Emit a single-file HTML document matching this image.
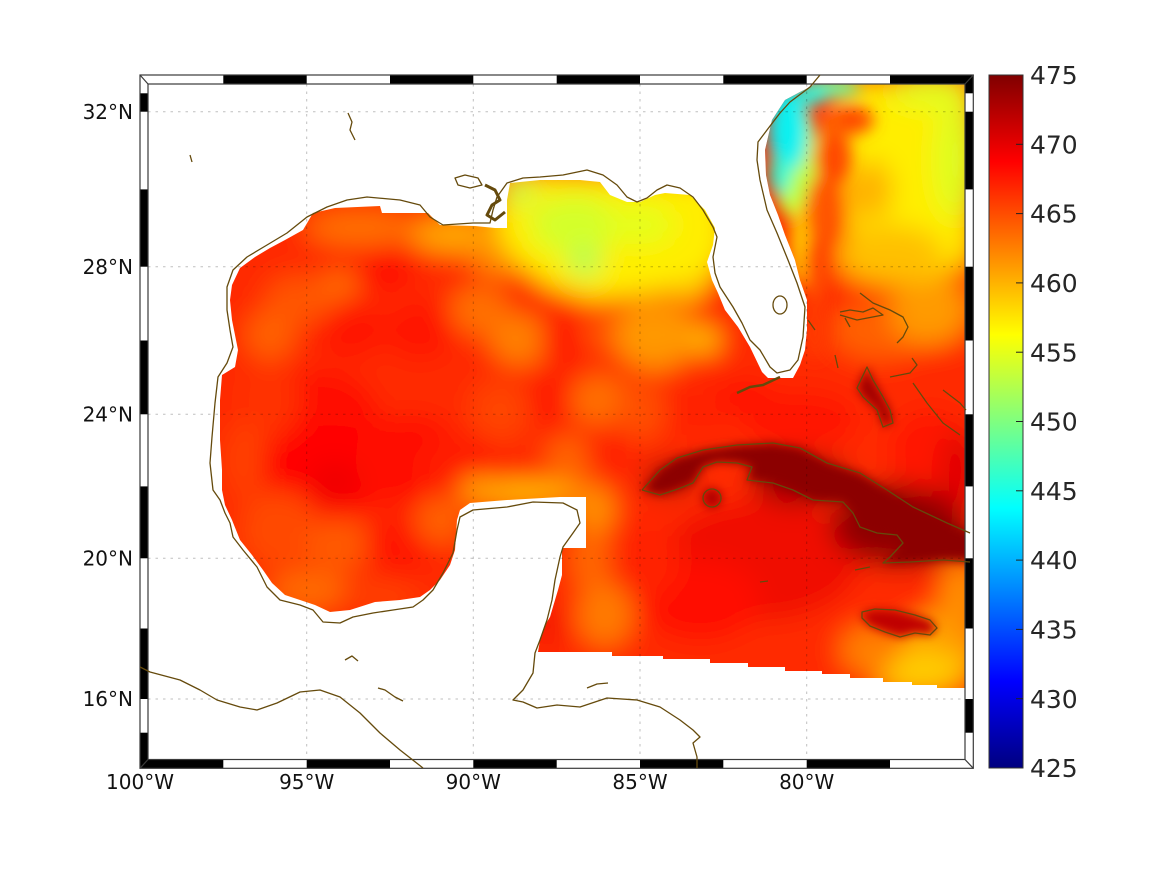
<!DOCTYPE html>
<html><head><meta charset="utf-8"><style>
html,body{margin:0;padding:0;background:#fff;}
svg{display:block;}
text{font-family:"DejaVu Sans","Liberation Sans",sans-serif;}
</style></head><body>
<svg width="1167" height="875" viewBox="0 0 1167 875" xmlns="http://www.w3.org/2000/svg">
<defs>
<linearGradient id="jet" x1="0" y1="1" x2="0" y2="0">
<stop offset="0" stop-color="#000080"/><stop offset="0.125" stop-color="#0000ff"/>
<stop offset="0.375" stop-color="#00ffff"/><stop offset="0.625" stop-color="#ffff00"/>
<stop offset="0.875" stop-color="#ff0000"/><stop offset="1" stop-color="#800000"/>
</linearGradient>
<filter id="bl" filterUnits="userSpaceOnUse" x="80" y="30" width="960" height="800"><feGaussianBlur stdDeviation="13"/></filter>
<filter id="bm" filterUnits="userSpaceOnUse" x="80" y="30" width="960" height="800"><feGaussianBlur stdDeviation="8"/></filter>
<filter id="bs" filterUnits="userSpaceOnUse" x="80" y="30" width="960" height="800"><feGaussianBlur stdDeviation="5"/></filter>
<clipPath id="inner"><rect x="148" y="84" width="817" height="675.5"/></clipPath>
<clipPath id="outer"><rect x="140" y="75" width="833.3" height="693.3"/></clipPath>
<clipPath id="data"><polygon points="965,84 965,688 937,688 937,685 912,685 912,682 883,682 883,678 850,678 850,674 822,674 822,671 785,671 785,667 748,667 748,663 710,663 710,659 663,659 663,656 612,656 612,652 538,652 540,640 545,625 550,617 555,600 558,590 562,575 562,548 586,548 586,497 560,497 507,500 470,503 460,510 457,520 455,550 450,565 440,580 430,590 420,597 400,600 375,602 350,610 330,612 315,605 300,600 285,595 272,583 263,570 252,555 240,540 232,520 225,505 222,490 222,470 220,440 220,400 222,375 235,367 238,350 232,320 230,300 232,285 240,268 255,257 270,248 285,240 303,230 313,213 335,208 380,206 382,213 428,213 440,225 475,226 495,228 507,228 507,200 510,183 540,180 580,180 600,182 610,195 627,202 640,202 655,195 665,193 690,195 705,210 715,228 713,245 707,262 712,280 718,293 725,310 738,327 750,347 762,372 768,378 793,378 800,365 805,350 807,330 807,300 800,280 795,260 785,235 778,215 770,195 766,175 765,150 772,120 785,100 800,92 808,88 815,84"/></clipPath>
</defs>

<!-- data field -->
<g clip-path="url(#inner)">
<g clip-path="url(#data)">
<g filter="url(#bl)">
<rect x="100" y="50" width="900" height="750" fill="#ff2a00"/>
<!-- top shelf -->
<ellipse cx="360" cy="228" rx="55" ry="18" fill="#ff7000"/>
<ellipse cx="460" cy="235" rx="50" ry="18" fill="#ffa800"/>
<ellipse cx="500" cy="250" rx="30" ry="25" fill="#ff9000"/>
<ellipse cx="385" cy="272" rx="30" ry="20" fill="#ff1000"/>
<ellipse cx="350" cy="330" rx="35" ry="30" fill="#ff1800"/>
<ellipse cx="420" cy="330" rx="35" ry="30" fill="#ff1800"/>
<ellipse cx="300" cy="300" rx="35" ry="25" fill="#ff5500"/>
<ellipse cx="270" cy="335" rx="25" ry="25" fill="#ff6000"/>
<ellipse cx="340" cy="285" rx="20" ry="15" fill="#ff6a00"/>
<ellipse cx="480" cy="310" rx="30" ry="25" fill="#ff7000"/>
<ellipse cx="520" cy="340" rx="30" ry="25" fill="#ff8000"/>
<ellipse cx="565" cy="340" rx="25" ry="22" fill="#ff1800"/>
<ellipse cx="610" cy="330" rx="30" ry="25" fill="#ff5000"/>
<ellipse cx="655" cy="335" rx="40" ry="35" fill="#ff9800"/>
<!-- NE gulf yellow -->
<polygon points="505,175 725,180 728,250 705,285 640,295 590,300 545,285 515,260 495,230" fill="#ffee00"/>
<ellipse cx="575" cy="225" rx="45" ry="30" fill="#d4ff2b"/>
<ellipse cx="585" cy="262" rx="15" ry="15" fill="#a8ff58"/>
<ellipse cx="520" cy="192" rx="14" ry="12" fill="#b8ff48"/>
<ellipse cx="640" cy="225" rx="35" ry="20" fill="#e4ff1c"/>
<ellipse cx="705" cy="340" rx="15" ry="13" fill="#ffc400"/>
<ellipse cx="690" cy="290" rx="14" ry="12" fill="#ffc800"/>
<!-- west core -->
<ellipse cx="320" cy="420" rx="60" ry="50" fill="#ff1000"/>
<ellipse cx="330" cy="470" rx="70" ry="45" fill="#ff0600"/>
<ellipse cx="335" cy="482" rx="25" ry="20" fill="#f00000"/>
<ellipse cx="410" cy="460" rx="55" ry="45" fill="#ff0800"/>
<ellipse cx="460" cy="470" rx="40" ry="35" fill="#ff1a00"/>
<ellipse cx="270" cy="400" rx="30" ry="40" fill="#ff3000"/>
<ellipse cx="245" cy="460" rx="20" ry="40" fill="#ff4000"/>
<ellipse cx="280" cy="530" rx="40" ry="40" fill="#ff4a00"/>
<ellipse cx="340" cy="545" rx="35" ry="25" fill="#ff5a00"/>
<ellipse cx="400" cy="545" rx="35" ry="30" fill="#ff1800"/>
<ellipse cx="440" cy="520" rx="25" ry="25" fill="#ff6000"/>
<ellipse cx="310" cy="590" rx="40" ry="20" fill="#ff6a00"/>
<ellipse cx="380" cy="595" rx="40" ry="15" fill="#ff4000"/>
<!-- central -->
<ellipse cx="500" cy="410" rx="30" ry="30" fill="#ff4500"/>
<ellipse cx="555" cy="400" rx="25" ry="25" fill="#ff1800"/>
<ellipse cx="600" cy="400" rx="30" ry="25" fill="#ff7000"/>
<ellipse cx="570" cy="460" rx="25" ry="25" fill="#ff6500"/>
<ellipse cx="610" cy="450" rx="25" ry="25" fill="#ff2000"/>
<ellipse cx="640" cy="410" rx="25" ry="30" fill="#ff5000"/>
<ellipse cx="700" cy="410" rx="35" ry="25" fill="#ff2000"/>
<ellipse cx="745" cy="395" rx="30" ry="15" fill="#ff1000"/>
<!-- yucatan shore -->
<ellipse cx="520" cy="492" rx="60" ry="10" fill="#ffc800"/>
<ellipse cx="480" cy="490" rx="20" ry="12" fill="#ffb000"/>
<ellipse cx="595" cy="510" rx="20" ry="25" fill="#ff9000"/>
<ellipse cx="590" cy="560" rx="20" ry="30" fill="#ff6800"/>
<ellipse cx="605" cy="615" rx="28" ry="32" fill="#ff7a00"/>
<ellipse cx="548" cy="625" rx="10" ry="22" fill="#f00000"/>
<!-- caribbean -->
<ellipse cx="760" cy="560" rx="100" ry="60" fill="#f00800"/>
<ellipse cx="700" cy="600" rx="60" ry="40" fill="#ff1000"/>
<ellipse cx="650" cy="560" rx="30" ry="40" fill="#ff2000"/>
<ellipse cx="940" cy="650" rx="40" ry="40" fill="#ffa000"/>
<ellipse cx="920" cy="672" rx="45" ry="22" fill="#ffcc00"/>
<ellipse cx="870" cy="650" rx="30" ry="25" fill="#ff8000"/>
<ellipse cx="960" cy="600" rx="20" ry="40" fill="#ff9000"/>
<ellipse cx="900" cy="525" rx="70" ry="42" fill="#900000"/>
<ellipse cx="800" cy="480" rx="50" ry="25" fill="#a00000"/>
<ellipse cx="670" cy="478" rx="25" ry="15" fill="#a00000"/>
<!-- atlantic -->
<ellipse cx="800" cy="420" rx="60" ry="30" fill="#ff1400"/>
<ellipse cx="930" cy="450" rx="40" ry="40" fill="#ff1800"/>
<ellipse cx="960" cy="470" rx="20" ry="40" fill="#e00000"/>
<ellipse cx="880" cy="330" rx="50" ry="30" fill="#ff6000"/>
<ellipse cx="930" cy="310" rx="40" ry="35" fill="#ff9a00"/>
<polygon points="850,84 970,84 970,260 930,280 880,280 850,240 840,170" fill="#ffee00"/>
<ellipse cx="890" cy="255" rx="55" ry="30" fill="#ffc000"/>
<ellipse cx="955" cy="160" rx="20" ry="60" fill="#ddff22"/>
<ellipse cx="930" cy="92" rx="40" ry="15" fill="#e0ff20"/>
<ellipse cx="870" cy="190" rx="22" ry="30" fill="#ffb000"/>
</g>
<!-- gulf stream & cyan, smaller blur -->
<g filter="url(#bm)">
<ellipse cx="795" cy="160" rx="24" ry="60" fill="#c0ff40"/>
<ellipse cx="800" cy="245" rx="10" ry="40" fill="#ffd000"/>
<ellipse cx="830" cy="88" rx="30" ry="10" fill="#70ffa0"/>
<ellipse cx="788" cy="130" rx="20" ry="42" fill="#10f0f0"/>
<ellipse cx="780" cy="175" rx="11" ry="20" fill="#30f8d0"/>
<ellipse cx="812" cy="95" rx="16" ry="10" fill="#20f8e0"/>
<ellipse cx="852" cy="120" rx="22" ry="14" fill="#ff4a00"/>
<ellipse cx="832" cy="158" rx="18" ry="26" fill="#ff4a00"/>
<ellipse cx="820" cy="212" rx="15" ry="36" fill="#ff5800"/>
<ellipse cx="815" cy="270" rx="12" ry="35" fill="#ff5000"/>
<ellipse cx="815" cy="330" rx="12" ry="30" fill="#ff3a00"/>
</g>
<g filter="url(#bs)">
<polygon points="642,490 660,470 677,458 703,450 737,445 773,443 800,448 827,463 860,473 887,490 913,507 947,523 975,533 975,562 943,560 910,562 883,563 890,557 903,543 897,535 877,533 860,527 853,513 843,502 813,500 793,490 773,483 747,480 752,467 737,463 717,462 703,467 693,483 683,487 675,490 660,495" fill="#8c0000"/>
<ellipse cx="712" cy="498" rx="10" ry="10" fill="#b00000"/>
<polygon points="862,612 875,609 895,610 915,615 930,620 937,628 930,635 915,633 900,637 885,632 870,626 862,618" fill="#c00000"/>
<polygon points="867,367 873,380 883,397 890,410 893,423 883,427 877,410 863,397 857,388" fill="#a00000"/>
</g>
</g>
</g>

<!-- grid -->
<g stroke="#000" stroke-opacity="0.25" stroke-width="1" stroke-dasharray="2.5,5" fill="none">
<line x1="306.7" y1="84" x2="306.7" y2="759"/>
<line x1="473.3" y1="84" x2="473.3" y2="759"/>
<line x1="640" y1="84" x2="640" y2="759"/>
<line x1="806.7" y1="84" x2="806.7" y2="759"/>
<line x1="148" y1="111.7" x2="965" y2="111.7"/>
<line x1="148" y1="266.7" x2="965" y2="266.7"/>
<line x1="148" y1="414.3" x2="965" y2="414.3"/>
<line x1="148" y1="558.3" x2="965" y2="558.3"/>
<line x1="148" y1="699" x2="965" y2="699"/>
</g>

<!-- frame -->
<g fill="#000">
<rect x="223.3" y="75" width="83.4" height="9"/><rect x="390" y="75" width="83.3" height="9"/><rect x="556.7" y="75" width="83.3" height="9"/><rect x="723.3" y="75" width="83.4" height="9"/><rect x="890" y="75" width="83.3" height="9"/>
<rect x="140" y="759.5" width="83.3" height="8.8"/><rect x="306.7" y="759.5" width="83.3" height="8.8"/><rect x="473.3" y="759.5" width="83.4" height="8.8"/><rect x="640" y="759.5" width="83.3" height="8.8"/><rect x="806.7" y="759.5" width="83.3" height="8.8"/>
<rect x="140" y="93.3" width="8" height="18.4"/><rect x="140" y="189.4" width="8" height="77.3"/><rect x="140" y="340.5" width="8" height="73.8"/><rect x="140" y="486.4" width="8" height="71.9"/><rect x="140" y="628.5" width="8" height="70.5"/><rect x="140" y="732.7" width="8" height="35.6"/>
<rect x="965" y="75" width="8.3" height="18.3"/><rect x="965" y="111.7" width="8.3" height="77.7"/><rect x="965" y="266.7" width="8.3" height="73.8"/><rect x="965" y="414.3" width="8.3" height="72.1"/><rect x="965" y="558.3" width="8.3" height="70.2"/><rect x="965" y="699" width="8.3" height="33.7"/>
</g>
<g fill="none" stroke="#3a3a3a" stroke-width="1.2">
<rect x="140" y="75" width="833.3" height="693.3"/>
<rect x="148" y="84" width="817" height="675.5"/>
<line x1="140" y1="75" x2="148" y2="84"/><line x1="973.3" y1="75" x2="965" y2="84"/>
<line x1="140" y1="768.3" x2="148" y2="759.5"/><line x1="973.3" y1="768.3" x2="965" y2="759.5"/>
</g>

<!-- coastlines -->
<g clip-path="url(#outer)" fill="none" stroke="#654a0c" stroke-width="1.3" stroke-linejoin="round">
<path d="M820,75 L810,87 L790,102 L780,113 L767,130 L758,142 L757,160 L760,180 L767,210 L777,233 L788,260 L797,283 L805,307 L803,337 L798,360 L790,370 L777,373 L770,367 L760,350 L750,340 L742,323 L733,307 L720,287 L715,273 L713,257 L717,237 L713,227 L703,210 L693,197 L680,188 L667,185 L657,190 L647,198 L637,202 L627,197 L617,185 L603,175 L587,170 L563,175 L540,177 L523,178 L507,183 L497,197 L493,210 L490,223 L473,223 L443,225 L430,217 L420,205 L400,200 L367,197 L347,200 L327,207 L307,217 L287,233 L267,245 L247,257 L233,270 L227,287 L227,310 L230,330 L233,347 L227,363 L218,377 L215,403 L212,437 L210,463 L213,490 L220,500 L225,513 L230,523 L233,537 L243,550 L257,567 L267,587 L280,600 L300,605 L313,610 L323,622 L340,623 L353,617 L373,613 L393,610 L413,607 L423,600 L433,590 L443,573 L453,553 L457,530 L460,517 L473,510 L507,507 L533,502 L563,503 L577,510 L580,523 L573,533 L563,547 L560,557 L555,580 L552,600 L547,620 L540,640 L535,653 L533,673 L523,690 L513,700 L523,702 L537,708 L557,705 L580,707 L607,698 L637,700 L660,707 L680,720 L693,730 L700,737 L693,743 L697,757 L697,768"/>
<path d="M140,667 L150,672 L180,680 L200,690 L217,700 L240,707 L257,710 L277,703 L300,692 L320,690 L340,697 L360,713 L380,733 L400,750 L423,768"/>
<path d="M642,490 L660,470 L677,458 L703,450 L737,445 L773,443 L800,448 L827,463 L860,473 L887,490 L913,507 L947,523 L970,533"/>
<path d="M970,562 L943,560 L910,562 L883,563 L890,557 L903,543 L897,535 L877,533 L860,527 L853,513 L843,502 L813,500 L793,490 L773,483 L747,480 L752,467 L737,463 L717,462 L703,467 L693,483 L683,487 L675,490 L660,495 L642,490"/>
<ellipse cx="712" cy="498" rx="9" ry="9"/>
<path d="M862,612 L875,609 L895,610 L915,615 L930,620 L937,628 L930,635 L915,633 L900,637 L885,632 L870,626 L862,618 Z"/>
<path d="M867,367 L873,380 L883,397 L890,410 L893,423 L883,427 L877,410 L863,397 L857,388 Z"/>
<path d="M860,293 L873,303 L890,310 L903,317 L908,327 L903,337 L897,343"/>
<path d="M840,312 L850,310 L863,312 L873,308 L883,315 L857,320 L840,315"/>
<path d="M912,358 L917,365 L910,373 L890,377"/>
<path d="M913,383 L927,403 L943,423 L960,435"/>
<path d="M943,390 L960,403 L966,410"/>
<path d="M737,393 L750,387 L763,385 L780,377" stroke-width="2.5"/>
<ellipse cx="780" cy="305" rx="7" ry="9"/>
<path d="M348,113 L352,122 L350,130 L355,140"/>
<path d="M455,178 L465,175 L478,178 L482,185 L470,188 L458,185 Z"/>
<path d="M485,185 L495,190 L500,200 L492,205 L487,215 L495,220 L505,212" stroke-width="3"/>
<path d="M190,155 L192,162"/>
<path d="M855,570 L870,567"/>
<path d="M760,582 L768,581"/>
<path d="M345,660 L352,656 L358,661"/>
<path d="M378,688 L385,690 L395,697 L403,701"/>
<path d="M587,688 L597,684 L608,683"/>
<path d="M808,320 L815,330"/>
<path d="M835,355 L838,368"/>
<path d="M845,318 L850,327"/>
</g>

<!-- axis labels -->
<g font-size="20" fill="#111" text-anchor="end">
<text x="133" y="119">32°N</text>
<text x="133" y="274">28°N</text>
<text x="133" y="421.5">24°N</text>
<text x="133" y="565.5">20°N</text>
<text x="133" y="706">16°N</text>
</g>
<g font-size="20" fill="#111" text-anchor="middle">
<text x="140" y="789">100°W</text>
<text x="306.7" y="789">95°W</text>
<text x="473.3" y="789">90°W</text>
<text x="640" y="789">85°W</text>
<text x="806.7" y="789">80°W</text>
</g>

<!-- colorbar -->
<rect x="989" y="75" width="34" height="693" fill="url(#jet)" stroke="#333" stroke-width="1"/>
<g stroke="#222" stroke-width="1">
<line x1="1016" y1="144.3" x2="1023" y2="144.3"/><line x1="1016" y1="213.6" x2="1023" y2="213.6"/>
<line x1="1016" y1="282.9" x2="1023" y2="282.9"/><line x1="1016" y1="352.2" x2="1023" y2="352.2"/>
<line x1="1016" y1="421.5" x2="1023" y2="421.5"/><line x1="1016" y1="490.8" x2="1023" y2="490.8"/>
<line x1="1016" y1="560.1" x2="1023" y2="560.1"/><line x1="1016" y1="629.4" x2="1023" y2="629.4"/>
<line x1="1016" y1="698.7" x2="1023" y2="698.7"/>
</g>
<g font-size="25" fill="#262626">
<text x="1030" y="84">475</text>
<text x="1030" y="153.4">470</text>
<text x="1030" y="222.7">465</text>
<text x="1030" y="292">460</text>
<text x="1030" y="361.3">455</text>
<text x="1030" y="430.6">450</text>
<text x="1030" y="499.9">445</text>
<text x="1030" y="569.2">440</text>
<text x="1030" y="638.5">435</text>
<text x="1030" y="707.8">430</text>
<text x="1030" y="777">425</text>
</g>
</svg>
</body></html>
